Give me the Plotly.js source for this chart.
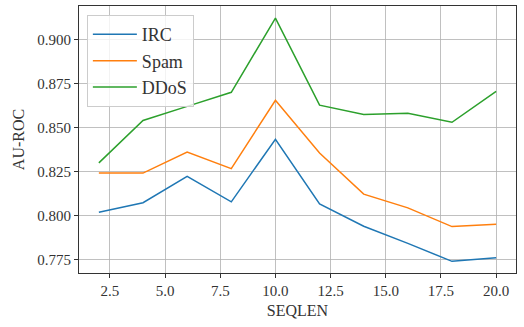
<!DOCTYPE html>
<html><head><meta charset="utf-8">
<script src="https://cdn.plot.ly/plotly-3.0.1.min.js"></script>
<style>html,body{margin:0;padding:0;background:#fff}#chart{width:524px;height:327px}</style>
</head><body><div id="chart"></div>
<script>
const seqlen = [2, 4, 6, 8, 10, 12, 14, 16, 18, 20];
const irc  = [0.8020, 0.8074, 0.8223, 0.8079, 0.8434, 0.8068, 0.7941, 0.7844, 0.7742, 0.7763];
const spam = [0.8242, 0.8242, 0.8361, 0.8267, 0.8655, 0.8356, 0.8123, 0.8045, 0.7939, 0.7952];
const ddos = [0.8300, 0.8540, 0.8620, 0.8700, 0.9120, 0.8627, 0.8574, 0.8581, 0.8530, 0.8705];
const seriesNames = ['IRC', 'Spam', 'DDoS'];
const colors = ['#1f77b4', '#ff7f0e', '#2ca02c'];
const xTicks = [2.5, 5.0, 7.5, 10.0, 12.5, 15.0, 17.5, 20.0];
const yTicks = [0.775, 0.800, 0.825, 0.850, 0.875, 0.900];

const font = 'Liberation Serif, DejaVu Serif, serif';
const traces = [irc, spam, ddos].map((ys, i) => ({
  x: seqlen, y: ys, type: 'scatter', mode: 'lines', name: seriesNames[i],
  line: {color: colors[i], width: 1.5}
}));
const axisCommon = {
  showline: true, mirror: true, linecolor: '#333', linewidth: 1,
  showgrid: true, gridcolor: '#b0b0b0', gridwidth: 0.8,
  ticks: 'outside', ticklen: 4, tickcolor: '#333', zeroline: false,
  tickfont: {family: font, size: 15, color: '#333'}
};
const layout = {
  width: 524, height: 327,
  margin: {l: 79, r: 8, t: 6, b: 54},
  paper_bgcolor: '#fff', plot_bgcolor: '#fff',
  showlegend: true,
  legend: {x: 0.018, y: 0.966, xanchor: 'left', yanchor: 'top',
    bgcolor: 'rgba(255,255,255,0.8)', bordercolor: '#ccc', borderwidth: 1,
    itemwidth: 44,
    font: {family: font, size: 18, color: '#333'}, tracegroupgap: 0},
  xaxis: Object.assign({}, axisCommon, {
    range: [1.1, 20.9], tickvals: xTicks, ticktext: xTicks.map(v => v.toFixed(1)),
    title: {text: 'SEQLEN', font: {family: font, size: 16, color: '#333'}, standoff: 6}
  }),
  yaxis: Object.assign({}, axisCommon, {
    range: [0.7676, 0.9189], tickvals: yTicks, ticktext: yTicks.map(v => v.toFixed(3)),
    title: {text: 'AU-ROC', font: {family: font, size: 16, color: '#333'}, standoff: 8}
  })
};
Plotly.newPlot('chart', traces, layout, {displayModeBar: false, staticPlot: true});
</script></body></html>
